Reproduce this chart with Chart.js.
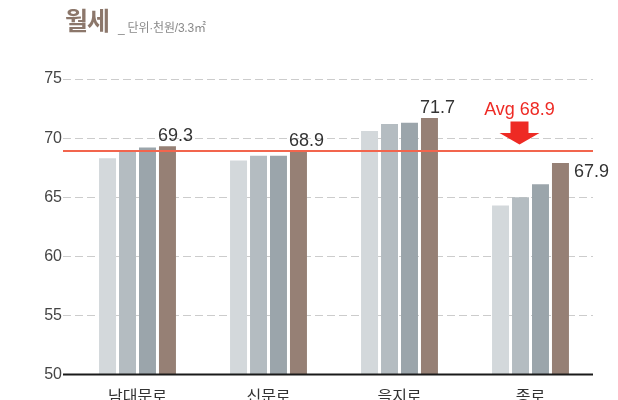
<!DOCTYPE html>
<html>
<head>
<meta charset="utf-8">
<script src="https://cdn.jsdelivr.net/npm/chart.js@4"></script>
<style>
  html, body { margin: 0; padding: 0; background: #ffffff; }
  #wrap { position: relative; width: 618px; height: 400px; overflow: hidden; }
  #c { position: absolute; left: 0; top: 0; }
  .title { position: absolute; left: 65px; top: 7px; font-family: "Noto Sans CJK KR", sans-serif; font-weight: 700; font-size: 25px; line-height: 1; color: #8c776b; letter-spacing: -1px; }
  .sub { position: absolute; left: 118px; top: 22px; font-family: "Liberation Sans", "Noto Sans CJK KR", sans-serif; font-size: 12px; line-height: 1; color: #8a8a8a; letter-spacing: -0.2px; }
</style>
</head>
<body>
<div id="wrap">
  <canvas id="c" width="618" height="400"></canvas>
  <div class="title">월세</div>
  <div class="sub">_ 단위·천원/3.3㎡</div>
</div>
<script>
const categories = ['남대문로', '신문로', '을지로', '종로'];
const series1 = [68.3, 68.1, 70.6, 64.3];
const series2 = [69.0, 68.5, 71.2, 65.0];
const series3 = [69.2, 68.5, 71.3, 66.1];
const series4 = [69.3, 68.9, 71.7, 67.9];
const seriesNames = ['1', '2', '3', '4'];
const averageValue = 68.9;
const averageLabel = 'Avg 68.9';
const yTicks = [50, 55, 60, 65, 70, 75];

const colors = ['#d3d8db', '#b4bcc1', '#9ba5ab', '#968075'];
const GRID_LEFT = 63, GRID_RIGHT = 593;

const decor = {
  id: 'decor',
  beforeDatasetsDraw(chart) {
    const ctx = chart.ctx, y = chart.scales.y;
    ctx.save();
    ctx.strokeStyle = '#cccccc';
    ctx.lineWidth = 1;
    ctx.setLineDash([8, 4]);
    yTicks.forEach(v => {
      if (v === yTicks[0]) return;
      const py = Math.round(y.getPixelForValue(v)) + 0.5;
      ctx.beginPath(); ctx.moveTo(GRID_LEFT, py); ctx.lineTo(GRID_RIGHT, py); ctx.stroke();
    });
    ctx.restore();
  },
  afterDatasetsDraw(chart) {
    const ctx = chart.ctx, y = chart.scales.y, x = chart.scales.x;
    ctx.save();
    const by = y.getPixelForValue(yTicks[0]);
    ctx.strokeStyle = '#1a1a1a';
    ctx.lineWidth = 2;
    ctx.beginPath(); ctx.moveTo(GRID_LEFT, by); ctx.lineTo(GRID_RIGHT, by); ctx.stroke();
    const ay = y.getPixelForValue(averageValue);
    ctx.strokeStyle = '#f2654d';
    ctx.lineWidth = 2;
    ctx.beginPath(); ctx.moveTo(GRID_LEFT, ay); ctx.lineTo(GRID_RIGHT, ay); ctx.stroke();
    const cx = x.getPixelForValue(3) - 11;
    ctx.fillStyle = '#ee2a24';
    ctx.font = '18px "Liberation Sans", Arial, sans-serif';
    ctx.textAlign = 'center';
    ctx.textBaseline = 'alphabetic';
    ctx.fillText(averageLabel, cx, 115);
    ctx.beginPath();
    ctx.moveTo(cx - 9, 121.5);
    ctx.lineTo(cx + 9, 121.5);
    ctx.lineTo(cx + 9, 133);
    ctx.lineTo(cx + 20, 133);
    ctx.lineTo(cx, 144.5);
    ctx.lineTo(cx - 20, 133);
    ctx.lineTo(cx - 9, 133);
    ctx.closePath();
    ctx.fill();
    const meta = chart.getDatasetMeta(3);
    ctx.fillStyle = '#333333';
    ctx.font = '18px "Liberation Sans", Arial, sans-serif';
    meta.data.forEach((bar, i) => {
      const v = series4[i].toFixed(1);
      const left = bar.x - bar.width / 2;
      if (i === 3) {
        ctx.textAlign = 'left';
        ctx.textBaseline = 'middle';
        ctx.fillText(v, bar.x + bar.width / 2 + 5, bar.y + 9);
      } else {
        ctx.textAlign = 'left';
        ctx.textBaseline = 'alphabetic';
        ctx.fillText(v, left - 1, bar.y - 5);
      }
    });
    ctx.restore();
  }
};

const datasets = [series1, series2, series3, series4].map((d, i) => ({
  label: seriesNames[i],
  data: d,
  backgroundColor: colors[i],
  borderWidth: 0,
  categoryPercentage: 0.61,
  barPercentage: 0.85
}));

new Chart(document.getElementById('c'), {
  type: 'bar',
  data: { labels: categories, datasets },
  options: {
    responsive: false,
    animation: false,
    layout: { padding: { top: 79, right: 22, bottom: 0, left: 0 } },
    plugins: { legend: { display: false }, tooltip: { enabled: false } },
    scales: {
      x: {
        grid: { display: false, drawTicks: false },
        border: { display: false },
        ticks: { color: '#333333', padding: 12, font: { family: '"Noto Sans CJK KR", sans-serif', size: 16 } },
        afterFit(s) { s.height = 25.5; }
      },
      y: {
        min: 50, max: 75,
        afterBuildTicks(s) { s.ticks = yTicks.map(v => ({ value: v })); },
        grid: { display: false, drawTicks: false },
        border: { display: false },
        ticks: { color: '#444444', padding: 10, font: { family: '"Liberation Sans", Arial, sans-serif', size: 16 } },
        afterFit(s) { s.width = 72; }
      }
    }
  },
  plugins: [decor]
});
</script>
</body>
</html>
